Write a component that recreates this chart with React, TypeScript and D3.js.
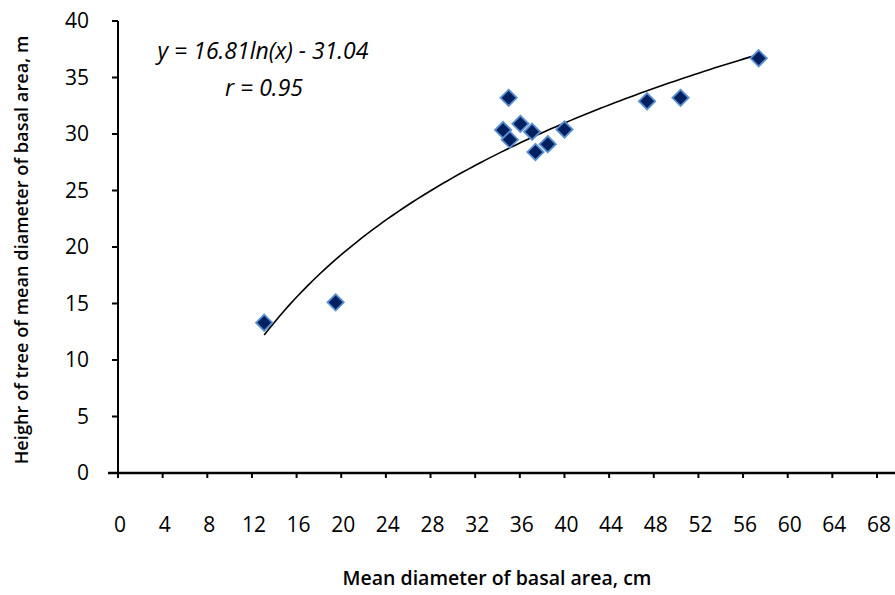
import React from "react";
import * as d3 from "d3";

// measured stands: mean diameter of basal area (cm) and height (m)
const diameter = [13.1, 19.5, 34.5, 35.0, 35.1, 36.05, 37.1, 37.4, 38.5, 40.0, 47.4, 50.4, 57.4];
const heights = [13.3, 15.1, 30.35, 33.2, 29.5, 30.9, 30.2, 28.4, 29.1, 30.4, 32.9, 33.2, 36.7];

const xTicks = [0, 4, 8, 12, 16, 20, 24, 28, 32, 36, 40, 44, 48, 52, 56, 60, 64, 68];
const yTicks = [0, 5, 10, 15, 20, 25, 30, 35, 40];

// trendline from the equation on the chart
const coefA = 16.81;
const coefB = -31.04;
const trendFrom = 13.1;
const trendTo = 57.4;

const width = 895;
const height = 595;
const font = "'Open Sans', sans-serif";

const App = () => {
  const x = d3.scaleLinear().domain([0, 68]).range([118, 877]);
  const y = d3.scaleLinear().domain([0, 40]).range([473, 21]);

  const curvePts = d3.range(0, 101).map((i) => {
    const xv = trendFrom + ((trendTo - trendFrom) * i) / 100;
    return [xv, coefA * Math.log(xv) + coefB] as [number, number];
  });
  const line = d3
    .line<[number, number]>()
    .x((d) => x(d[0]))
    .y((d) => y(d[1]));

  const diamond = d3.symbol().type(d3.symbolDiamond2).size(170);

  const x0 = x(0);
  const y0 = y(0);

  return (
    <svg
      width={width}
      height={height}
      style={{ position: "absolute", left: 0, top: 0, background: "#fff" }}
      fontFamily={font}
    >
      {/* y axis */}
      <line x1={x0} x2={x0} y1={y(40)} y2={y0 + 5} stroke="#000" strokeWidth={2} />
      {yTicks.map((t) => (
        <g key={"y" + t}>
          <line x1={x0 - 6} x2={x0} y1={y(t)} y2={y(t)} stroke="#000" strokeWidth={2} />
          <text x={89} y={y(t)} dy="0.35em" textAnchor="end" fontSize={21} fill="#000">
            {t}
          </text>
        </g>
      ))}
      {/* x axis */}
      <line x1={x0 - 10} x2={width} y1={y0} y2={y0} stroke="#000" strokeWidth={2.5} />
      {xTicks.map((t) => (
        <g key={"x" + t}>
          <line x1={x(t)} x2={x(t)} y1={y0} y2={y0 + 5} stroke="#000" strokeWidth={2} />
          <text x={x(t) + 2} y={525} dy="0.35em" textAnchor="middle" fontSize={21} fill="#000">
            {t}
          </text>
        </g>
      ))}

      <text x={497} y={578} dy="0.35em" textAnchor="middle" fontSize={19.5} fontWeight={600}>
        Mean diameter of basal area, cm
      </text>
      <text
        transform="translate(22,250) rotate(-90)"
        dy="0.35em"
        textAnchor="middle"
        fontSize={18.2}
        fontWeight={600}
      >
        Heighr of tree of mean diameter of basal area, m
      </text>

      <path d={line(curvePts) ?? ""} fill="none" stroke="#000" strokeWidth={1.6} />

      {diameter.map((d, i) => (
        <path
          key={"p" + i}
          d={diamond() ?? ""}
          transform={`translate(${x(d)},${y(heights[i])})`}
          fill="#002060"
          stroke="#5b8fd0"
          strokeWidth={1.8}
        />
      ))}

      <text x={263} y={51} dy="0.35em" textAnchor="middle" fontSize={23} fontStyle="italic">
        y = 16.81ln(x) - 31.04
      </text>
      <text x={264} y={88} dy="0.35em" textAnchor="middle" fontSize={23} fontStyle="italic">
        r = 0.95
      </text>
    </svg>
  );
};

export default App;
